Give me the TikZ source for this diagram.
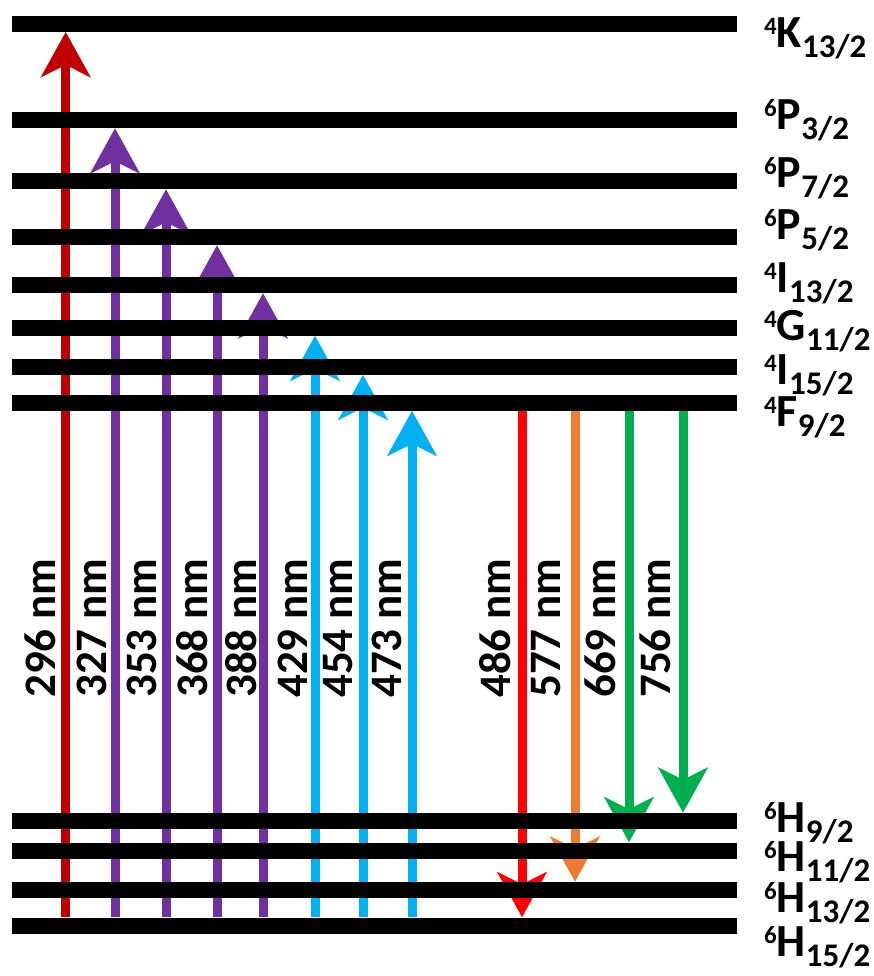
\documentclass[tikz,border=0pt]{standalone}
\usepackage{fontspec}
\setmainfont{Carlito}
\usetikzlibrary{arrows.meta,backgrounds}

\definecolor{dred}{HTML}{C00000}
\definecolor{vio}{HTML}{7030A0}
\definecolor{sky}{HTML}{00B0F0}
\definecolor{bred}{HTML}{FF0000}
\definecolor{amber}{HTML}{ED7D31}
\definecolor{leaf}{HTML}{00B050}

% term symbol: superscript, letter, subscript
\newcommand{\term}[4][13pt]{\raisebox{#1}[0pt][0pt]{\fontsize{25}{25}\selectfont #2}#3\raisebox{-10pt}[0pt][0pt]{\fontsize{33}{33}\selectfont #4}}

\begin{document}
\begin{tikzpicture}[x=1pt, y=-1pt,
  lvl/.style={fill=black, inner sep=0pt, minimum width=725.5pt, minimum height=16pt},
  lbl/.style={anchor=base west, inner sep=0pt, font=\fontsize{46}{46}\selectfont\bfseries},
  wave/.style={rotate=90, anchor=west, inner sep=0pt, font=\fontsize{45}{45}\selectfont\bfseries},
  ray/.style={draw=#1, line width=9pt, -{Stealth[length=45pt, width=49pt, inset=12pt]}}]
  \useasboundingbox (0,0) rectangle (873,976);

  % energy levels
  \node[lvl] (K13) at (374.25,23.7) {};
  \node[lvl] (P3) at (374.25,120) {};
  \node[lvl] (P7) at (374.25,181) {};
  \node[lvl] (P5) at (374.25,237) {};
  \node[lvl] (I13) at (374.25,285) {};
  \node[lvl] (G11) at (374.25,327.5) {};
  \node[lvl] (I15) at (374.25,366.5) {};
  \node[lvl] (F9) at (374.25,402.5) {};
  \node[lvl] (H9) at (374.25,821) {};
  \node[lvl] (H11) at (374.25,850.5) {};
  \node[lvl] (H13) at (374.25,890) {};
  \node[lvl] (H15) at (374.25,925.5) {};

  % level names
  \node[lbl] (tK13) at (764,48) {\term{4}{K}{13/2}};
  \node[lbl] (tP3) at (764,130) {\term{6}{P}{3/2}};
  \node[lbl] (tP7) at (764,188) {\term{6}{P}{7/2}};
  \node[lbl] (tP5) at (764,240) {\term{6}{P}{5/2}};
  \node[lbl] (tI13) at (764,292) {\term{4}{I}{13/2}};
  \node[lbl] (tG11) at (764,340) {\term{4}{G}{11/2}};
  \node[lbl] (tI15) at (764,384) {\term{4}{I}{15/2}};
  \node[lbl] (tF9) at (764,426) {\term{4}{F}{9/2}};
  \node[lbl] (tH9) at (764,832) {\term{6}{H}{9/2}};
  \node[lbl] (tH11) at (764,871) {\term{6}{H}{11/2}};
  \node[lbl] (tH13) at (764,912) {\term{6}{H}{13/2}};
  \node[lbl] (tH15) at (764,956) {\term{6}{H}{15/2}};

  % columns of the transitions
  \coordinate (c296) at (65.7,0);
  \coordinate (c327) at (115,0);
  \coordinate (c353) at (166,0);
  \coordinate (c368) at (217,0);
  \coordinate (c388) at (263,0);
  \coordinate (c429) at (315,0);
  \coordinate (c454) at (363,0);
  \coordinate (c473) at (412,0);
  \coordinate (c486) at (522,0);
  \coordinate (c577) at (575,0);
  \coordinate (c669) at (629,0);
  \coordinate (c756) at (683,0);

  \begin{scope}[on background layer]
    % excitation
    \draw[ray=dred] (c296 |- H15.north) -- (c296 |- K13.south);
    \draw[ray=vio] (c327 |- H15.north) -- (c327 |- P3.south);
    \draw[ray=vio] (c353 |- H15.north) -- (c353 |- P7.south);
    \draw[ray=vio] (c368 |- H15.north) -- (c368 |- P5.south);
    \draw[ray=vio] (c388 |- H15.north) -- (c388 |- I13.south);
    \draw[ray=sky] (c429 |- H15.north) -- (c429 |- G11.south);
    \draw[ray=sky] (c454 |- H15.north) -- (c454 |- I15.south);
    \draw[ray=sky] (c473 |- H15.north) -- (c473 |- F9.south);
    % emission
    \draw[ray=bred] (c486 |- F9) -- (c486 |- H15.north);
    \draw[ray=amber] (c577 |- F9) -- (c577 |- H13.north);
    \draw[ray=leaf] (c669 |- F9) -- (c669 |- H11.north);
    \draw[ray=leaf] (c756 |- F9) -- (c756 |- H9.north);
  \end{scope}

  % wavelengths
  \node[wave] (w296) at (40,698) {296 nm};
  \node[wave] (w327) at (92,698) {327 nm};
  \node[wave] (w353) at (142,698) {353 nm};
  \node[wave] (w368) at (192,698) {368 nm};
  \node[wave] (w388) at (241,698) {388 nm};
  \node[wave] (w429) at (293,698) {429 nm};
  \node[wave] (w454) at (338,698) {454 nm};
  \node[wave] (w473) at (387,698) {473 nm};
  \node[wave] (w486) at (495,698) {486 nm};
  \node[wave] (w577) at (546,698) {577 nm};
  \node[wave] (w669) at (600,698) {669 nm};
  \node[wave] (w756) at (655,698) {756 nm};
\end{tikzpicture}
\end{document}
